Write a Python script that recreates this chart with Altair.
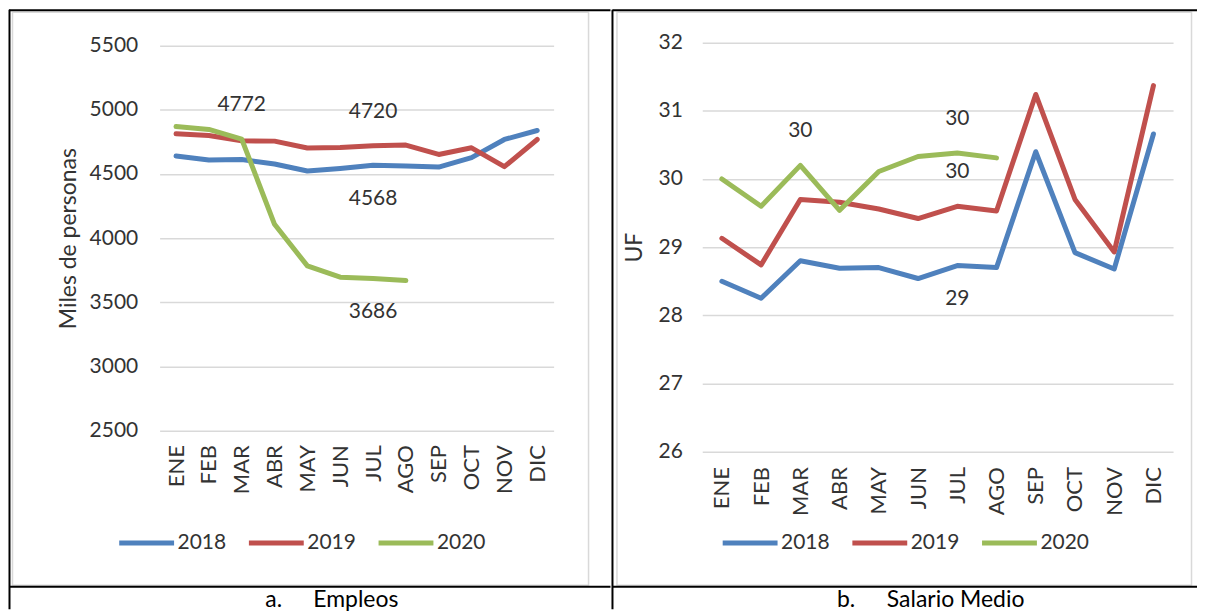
import altair as alt
import pandas as pd

MONTHS = ["ENE", "FEB", "MAR", "ABR", "MAY", "JUN", "JUL", "AGO", "SEP", "OCT", "NOV", "DIC"]
YEARS = ["2018", "2019", "2020"]
COLORS = ["#4F81BD", "#C0504D", "#9BBB59"]

EMP_2018 = [4640, 4609, 4613, 4578, 4523, 4543, 4568, 4562, 4554, 4627, 4769, 4839]
EMP_2019 = [4813, 4800, 4759, 4756, 4702, 4707, 4720, 4725, 4652, 4704, 4557, 4769]
EMP_2020 = [4870, 4847, 4772, 4108, 3784, 3696, 3686, 3670]

SAL_2018 = [28.50, 28.25, 28.80, 28.69, 28.70, 28.54, 28.73, 28.70, 30.40, 28.92, 28.68, 30.66]
SAL_2019 = [29.13, 28.74, 29.70, 29.66, 29.56, 29.42, 29.60, 29.53, 31.24, 29.70, 28.93, 31.37]
SAL_2020 = [30.00, 29.60, 30.20, 29.54, 30.11, 30.33, 30.38, 30.31]

EMP_TICKS = [2500, 3000, 3500, 4000, 4500, 5000, 5500]
EMP_DOMAIN = [2500, 5523]
SAL_TICKS = [26, 27, 28, 29, 30, 31, 32]
SAL_DOMAIN = [26, 32]

# data labels: year, month, position
EMP_LABEL_YEARS = ["2020", "2019", "2018", "2020"]
EMP_LABEL_MONTHS = ["MAR", "JUL", "JUL", "JUL"]
EMP_LABEL_POS = ["above", "above", "below", "below"]

SAL_LABEL_YEARS = ["2020", "2020", "2019", "2018"]
SAL_LABEL_MONTHS = ["MAR", "JUL", "JUL", "JUL"]
SAL_LABEL_POS = ["above", "above", "above", "below"]

FONT = "Lato"
TXT = "#333333"
GRID = "#d9d9d9"


def long_df(series):
    rows = []
    for year, vals in zip(YEARS, series):
        for m, v in zip(MONTHS, vals):
            rows.append({"month": m, "year": year, "value": v})
    return pd.DataFrame(rows)


def label_df(df, years, months, pos):
    lab = pd.DataFrame({"year": years, "month": months, "pos": pos})
    return df.merge(lab, on=["year", "month"])


ONE = pd.DataFrame({"k": [0]})


def hline(x1, x2, y, color="black", w=2):
    return alt.Chart(ONE).mark_rule(color=color, strokeWidth=w).encode(
        x=alt.value(x1), x2=alt.value(x2), y=alt.value(y))


def vline(x, y1, y2, color="black", w=2):
    return alt.Chart(ONE).mark_rule(color=color, strokeWidth=w).encode(
        x=alt.value(x), y=alt.value(y1), y2=alt.value(y2))


def box(x1, x2, y1, y2):
    return alt.Chart(ONE).mark_rect(fillOpacity=0, stroke=GRID, strokeWidth=1.5).encode(
        x=alt.value(x1), x2=alt.value(x2), y=alt.value(y1), y2=alt.value(y2))


def caption(x, y, text):
    return alt.Chart(ONE).mark_text(align="left", baseline="alphabetic", fontSize=23,
                                    font=FONT, color="black").encode(
        x=alt.value(x), y=alt.value(y), text=alt.value(text))


def panel(df, lab, ticks, domain, ytitle, g):
    W, H = g["W"], g["H"]
    x = alt.X("month:N", sort=MONTHS, scale=alt.Scale(type="point", padding=0.5),
              axis=alt.Axis(labelAngle=270, labelAlign="right", labelBaseline="middle",
                            labelPadding=g["xlabpad"], ticks=False, domain=False, grid=False,
                            labelFontSize=22, labelColor=TXT, labelFont=FONT, title=None))
    y = alt.Y("value:Q", scale=alt.Scale(domain=domain, nice=False, zero=False),
              axis=alt.Axis(values=ticks, format="d", grid=True, gridColor=GRID, gridWidth=1.5,
                            ticks=False, domain=False, labelPadding=g["ylabpad"], labelFontSize=21,
                            labelColor=TXT, labelFont=FONT, title=ytitle, titleFontSize=23,
                            titleFont=FONT, titleFontWeight="normal", titleColor=TXT,
                            titleAngle=270, titleAlign="center", titleBaseline="middle",
                            titleX=g["titleX"], titleY=g["titleY"]))
    lines = alt.Chart(df).mark_line(strokeWidth=5, strokeCap="round", strokeJoin="round").encode(
        x=x, y=y,
        color=alt.Color("year:N", title=None,
                        scale=alt.Scale(domain=YEARS, range=COLORS),
                        legend=alt.Legend(orient="none", legendX=g["legX"], legendY=g["legY"],
                                          direction="horizontal", symbolType="stroke",
                                          symbolSize=3025, symbolStrokeWidth=5,
                                          labelFontSize=21, labelFont=FONT, labelColor=TXT,
                                          labelOffset=1, columnPadding=12, padding=0)))
    above = alt.Chart(lab).transform_filter(alt.datum.pos == "above").mark_text(
        fontSize=21, font=FONT, color=TXT, dy=-34, baseline="middle").encode(
        x=alt.X("month:N", sort=MONTHS), y="value:Q", text=alt.Text("value:Q", format=".0f"))
    below = alt.Chart(lab).transform_filter(alt.datum.pos == "below").mark_text(
        fontSize=21, font=FONT, color=TXT, dy=34, baseline="middle").encode(
        x=alt.X("month:N", sort=MONTHS), y="value:Q", text=alt.Text("value:Q", format=".0f"))
    deco = [box(*g["box"])] + [hline(*a) for a in g["hlines"]] + [vline(*a) for a in g["vlines"]]
    caps = [caption(*c) for c in g["caps"]]
    return alt.layer(*deco, lines, above, below, *caps).properties(width=W, height=H)


emp = long_df([EMP_2018, EMP_2019, EMP_2020])
sal = long_df([SAL_2018, SAL_2019, SAL_2020])

GA = dict(W=395, H=389, xlabpad=14, ylabpad=22, titleX=-91, titleY=196, legX=-43, legY=471.5,
          box=(-147.5, 430, -30.5, 544),
          hlines=[(-151, 452, -32.5), (-151, 452, 545.5)],
          vlines=[(-150.5, -33, 568)],
          caps=[(106, 566, "a."), (154, 566, "Empleos")])
GB = dict(W=472, H=410, xlabpad=15, ylabpad=20, titleX=-68, titleY=205, legX=18, legY=471.5,
          box=(-85.5, 490.5, -30.5, 544),
          hlines=[(-90, 496, -32.5), (-90, 496, 545.5)],
          vlines=[(-90, -33, 568)],
          caps=[(135, 566, "b."), (185, 566, "Salario Medio")])

pa = panel(emp, label_df(emp, EMP_LABEL_YEARS, EMP_LABEL_MONTHS, EMP_LABEL_POS),
           EMP_TICKS, EMP_DOMAIN, "Miles de personas", GA)
pb = panel(sal, label_df(sal, SAL_LABEL_YEARS, SAL_LABEL_MONTHS, SAL_LABEL_POS),
           SAL_TICKS, SAL_DOMAIN, "UF", GB)

chart = alt.hconcat(pa, pb, spacing=0).resolve_scale(
    color="independent", x="independent", y="independent").resolve_legend(
    color="independent").properties(padding=0, background="white").configure(
    font=FONT).configure_view(strokeWidth=0)

chart.save("out.html", embed_options={"renderer": "svg", "actions": False})
